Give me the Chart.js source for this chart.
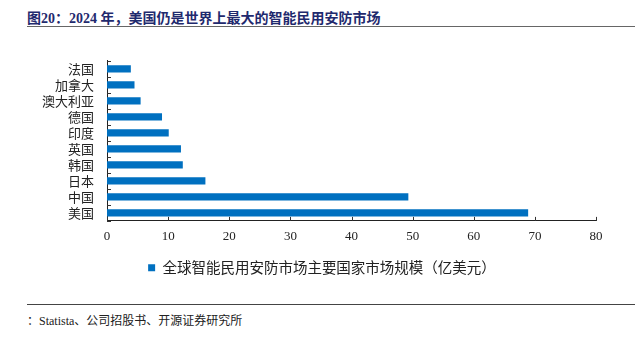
<!DOCTYPE html>
<html>
<head>
<meta charset="utf-8">
<script src="https://cdn.jsdelivr.net/npm/chart.js@4.4.1/dist/chart.umd.min.js"></script>
<style>
  body { margin: 0; width: 635px; height: 340px; background: #fff; position: relative; overflow: hidden; }
  #titulo { position: absolute; left: 27px; top: 7px; font: bold 14px "Liberation Serif", "Noto Sans CJK SC", serif; color: #1F2A6E; white-space: nowrap; }
  #linea-titulo { position: absolute; left: 27px; right: 0; top: 26px; border-top: 1.5px solid #666; }
  #caja { position: absolute; left: 0; top: 40px; width: 635px; height: 245px; }
  #linea-fuente { position: absolute; left: 27px; right: 0; top: 304px; border-top: 1px solid #444; }
  #fuente { position: absolute; left: 27px; top: 311px; font: 12px "Liberation Serif", "Noto Sans CJK SC", serif; color: #222; white-space: nowrap; }
</style>
</head>
<body>
<div id="titulo">图20：2024 年，美国仍是世界上最大的智能民用安防市场</div>
<div id="linea-titulo"></div>
<div id="caja"><canvas id="graficoPaises"></canvas></div>
<div id="linea-fuente"></div>
<div id="fuente">：Statista、公司招股书、开源证券研究所</div>

<script>
// países (de arriba a abajo) y tamaño de mercado en 亿美元
const paises = ['法国', '加拿大', '澳大利亚', '德国', '印度', '英国', '韩国', '日本', '中国', '美国'];
const valores = [3.9, 4.5, 5.5, 9.0, 10.1, 12.1, 12.4, 16.1, 49.3, 68.9];
const ticksX = [0, 10, 20, 30, 40, 50, 60, 70, 80];
const nombreSerie = '全球智能民用安防市场主要国家市场规模（亿美元）';

// marcas cortas hacia dentro en ambos ejes
const marcasInternas = {
    id: 'marcasInternas',
    afterDraw(chart) {
        const ctx = chart.ctx;
        const x = chart.scales.x;
        const area = chart.chartArea;
        ctx.save();
        ctx.strokeStyle = '#333';
        ctx.lineWidth = 1;
        ctx.beginPath();
        ticksX.forEach(v => {
            const px = Math.round(x.getPixelForValue(v)) + 0.5;
            ctx.moveTo(px, area.bottom);
            ctx.lineTo(px, area.bottom - 4);
        });
        const paso = (area.bottom - area.top) / paises.length;
        for (let i = 0; i <= paises.length; i++) {
            const py = Math.round(area.top + i * paso) + 0.5;
            ctx.moveTo(area.left, py);
            ctx.lineTo(area.left + 4, py);
        }
        ctx.stroke();
        ctx.restore();
    }
};

// la leyenda va un poco a la derecha del centro
const moverLeyenda = {
    id: 'moverLeyenda',
    afterLayout(chart) {
        if (chart.legend) {
            chart.legend.left += 48;
        }
    }
};

const ctx = document.getElementById('graficoPaises').getContext('2d');
new Chart(ctx, {
    type: 'bar',
    data: {
        labels: paises,
        datasets: [{
            label: nombreSerie,
            data: valores,
            backgroundColor: '#0070C0',
            barPercentage: 0.45,
            categoryPercentage: 1
        }]
    },
    options: {
        indexAxis: 'y',
        responsive: true,
        maintainAspectRatio: false,
        animation: false,
        layout: { padding: { top: 17, right: 39, left: 0, bottom: 0 } },
        scales: {
            x: {
                min: 0, max: 80,
                afterBuildTicks: s => { s.ticks = ticksX.map(v => ({ value: v })); },
                grid: { display: false, drawTicks: false },
                border: { color: '#222', width: 1 },
                ticks: { color: '#222', padding: 8, font: { family: 'Liberation Serif', size: 13 } }
            },
            y: {
                afterFit: s => { s.width = 107; },
                grid: { display: false, drawTicks: false },
                border: { color: '#222', width: 1 },
                ticks: { color: '#222', padding: 13, autoSkip: false, font: { family: 'Noto Sans CJK SC', size: 13 } }
            }
        },
        plugins: {
            legend: {
                position: 'bottom',
                labels: {
                    color: '#222',
                    boxWidth: 7, boxHeight: 7,
                    padding: 8,
                    font: { family: 'Noto Sans CJK SC', size: 14.5 }
                }
            },
            tooltip: { enabled: false }
        }
    },
    plugins: [marcasInternas, moverLeyenda]
});
</script>
</body>
</html>
